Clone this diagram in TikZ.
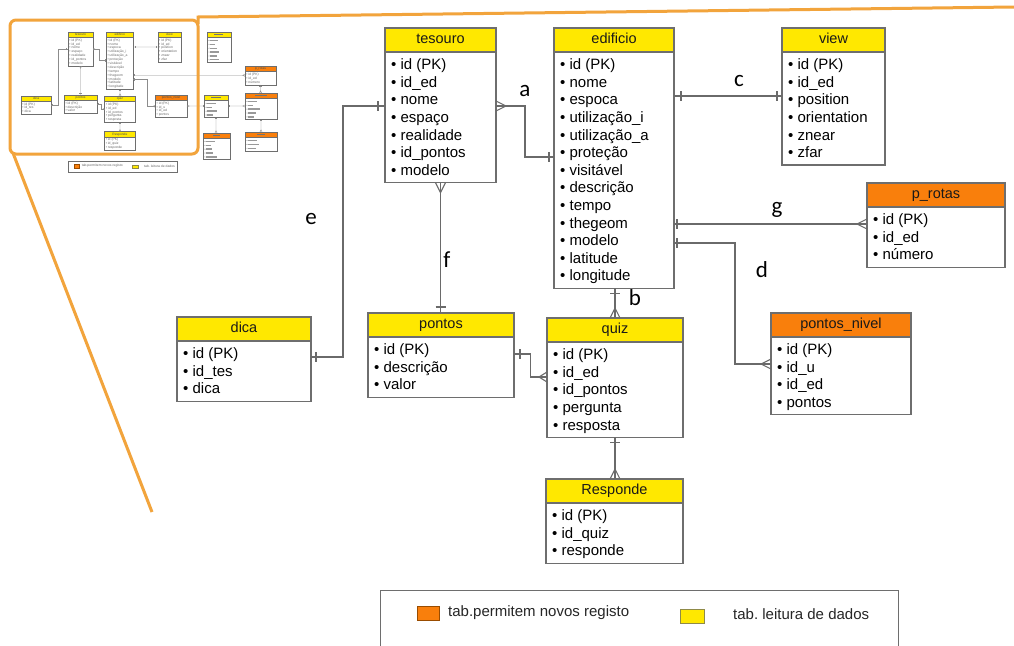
\documentclass[tikz,border=0pt]{standalone}
\usepackage{fontspec}
\setmainfont{Liberation Sans}
\newfontfamily\lblfamily{Carlito}
\usetikzlibrary{calc}

\definecolor{hdryellow}{HTML}{FFE800}
\definecolor{hdrorange}{HTML}{F97F0C}
\definecolor{tabline}{HTML}{6E6E6E}
\definecolor{linkgray}{HTML}{6A6A6A}
\definecolor{framecol}{HTML}{F2A43C}

\tikzset{
  tabhead/.style={draw=tabline, line width=1.1pt, inner sep=0pt, outer sep=0pt,
    minimum height=24, text height=10.5pt, text depth=3pt,
    font=\fontsize{14.5}{17}\selectfont, text=black!90},
  tabbody/.style={draw=tabline, fill=white, line width=1.1pt, inner sep=0pt, outer sep=0pt},
  tabrow/.style={inner sep=0pt, anchor=west, text height=10.5pt, text depth=3pt,
    font=\fontsize{15}{18}\selectfont, text=black},
  conn/.style={draw=linkgray, line width=1.1pt},
  lbl/.style={inner sep=0pt, anchor=base, font={\lblfamily\fontsize{23}{26}\selectfont}},
  legbox/.style={draw=tabline, line width=1pt, fill=white, inner sep=0pt, outer sep=0pt, anchor=north west},
  legswatch/.style={line width=.8pt, inner sep=0pt, outer sep=0pt, anchor=north west},
  legtext/.style={inner sep=0pt, anchor=west, text height=10.5pt, text depth=3pt,
    font=\fontsize{15}{18}\selectfont, text=black!85},
}

% entity table: name, left, top, width, header fill, title, attribute list
\newcommand\erdtable[7]{%
  \node[tabhead, fill=#5, minimum width=#4, anchor=north west] (#1) at (#2,#3) {#6};
  \foreach \erdrow [count=\erdk] in {#7} {\xdef\erdrows{\erdk}}
  \node[tabbody, minimum width=#4, minimum height={7.4+17.6*\erdrows}, anchor=north west]
    (#1-b) at (#2,{#3+24}) {};
  \foreach \erdrow [count=\erdk] in {#7}
    {\node[tabrow] (#1-r\erdk) at ({#2+6},{#3+20.4+17.6*\erdk}) {\textbullet\ \erdrow};}
}

% table whose entries are only hinted at by grey strokes
\newcommand\blurtable[7]{%
  \node[tabhead, fill=#5, minimum width=#4, anchor=north west] (#1) at (#2,#3) {};
  \fill[black!55] ({#2+#4/2-#6/2},{#3+9}) rectangle ++(#6,6);
  \foreach \erdlen [count=\erdk] in {#7} {\xdef\erdrows{\erdk}}
  \node[tabbody, minimum width=#4, minimum height={7.4+17.6*\erdrows}, anchor=north west]
    (#1-b) at (#2,{#3+24}) {};
  \foreach \erdlen [count=\erdk] in {#7} {
    \fill[black!70] ({#2+9},{#3+20.4+17.6*\erdk}) circle[radius=2];
    \fill[black!40] ({#2+15},{#3+17.4+17.6*\erdk}) rectangle ++(\erdlen,6);
  }
}

% relationship end marks
\newcommand\tickx[2]{\draw[conn] ($(#1)+(#2,-5)$) -- ($(#1)+(#2,5)$);}
\newcommand\ticky[2]{\draw[conn] ($(#1)+(-5,#2)$) -- ($(#1)+(5,#2)$);}
\newcommand\crowx[2]{\draw[conn] ($(#1)+(0,-5)$) -- ($(#1)+(#2,0)$) -- ($(#1)+(0,5)$);}
\newcommand\crowy[2]{\draw[conn] ($(#1)+(-5,0)$) -- ($(#1)+(0,#2)$) -- ($(#1)+(5,0)$);}

% the entity-relationship schema: node prefix, left edge of p_rotas
\newcommand\erdschema[2]{%
  \erdtable{#1tes}{385}{28}{111}{hdryellow}{tesouro}{id (PK),id\_ed,nome,espaço,realidade,id\_pontos,modelo}
  \erdtable{#1edi}{554}{28}{120}{hdryellow}{edificio}{id (PK),nome,espoca,utilização\_i,utilização\_a,proteção,visitável,descrição,tempo,thegeom,modelo,latitude,longitude}
  \erdtable{#1vie}{782}{28}{103}{hdryellow}{view}{id (PK),id\_ed,position,orientation,znear,zfar}
  \erdtable{#1pro}{#2}{183}{138}{hdrorange}{p\_rotas}{id (PK),id\_ed,número}
  \erdtable{#1dic}{177}{317}{134}{hdryellow}{dica}{id (PK),id\_tes,dica}
  \erdtable{#1pon}{368}{313}{146}{hdryellow}{pontos}{id (PK),descrição,valor}
  \erdtable{#1qui}{547}{318}{136}{hdryellow}{quiz}{id (PK),id\_ed,id\_pontos,pergunta,resposta}
  \erdtable{#1pni}{771}{313}{140}{hdrorange}{pontos\_nivel}{id (PK),id\_u,id\_ed,pontos}
  \erdtable{#1res}{546}{479}{137}{hdryellow}{Responde}{id (PK),id\_quiz,responde}
  % a: tesouro - edificio
  \coordinate (#1a1) at ($(#1tes-b.north east)+(0,54)$);
  \coordinate (#1a2) at ($(#1edi-b.north west)+(0,105)$);
  \draw[conn] (#1a1) -| ($(#1a1)!.5!(#1a2)$) |- (#1a2);
  \crowx{#1a1}{10}\tickx{#1a2}{-5}
  % e: tesouro - dica
  \coordinate (#1e1) at ($(#1tes-b.north west)+(0,54)$);
  \coordinate (#1e2) at ($(#1dic-b.north east)+(0,16)$);
  \draw[conn] (#1e1) -- ($(#1e1)+(-42,0)$) |- (#1e2);
  \tickx{#1e1}{-7}\tickx{#1e2}{5}
  % f: tesouro - pontos
  \coordinate (#1f1) at (#1tes-b.south);
  \coordinate (#1f2) at (#1f1 |- #1pon.north);
  \draw[conn] (#1f1) -- (#1f2);
  \crowy{#1f1}{10}\ticky{#1f2}{-6}
  % c: edificio - view
  \coordinate (#1c1) at ($(#1edi-b.north east)+(0,44)$);
  \coordinate (#1c2) at (#1c1 -| #1vie-b.west);
  \draw[conn] (#1c1) -- (#1c2);
  \tickx{#1c1}{7}\tickx{#1c2}{-5}
  % g: edificio - p_rotas
  \coordinate (#1g1) at ($(#1edi-b.north east)+(0,172)$);
  \coordinate (#1g2) at (#1g1 -| #1pro-b.west);
  \draw[conn] (#1g1) -- (#1g2);
  \tickx{#1g1}{3}\crowx{#1g2}{-10}
  % d: edificio - pontos_nivel
  \coordinate (#1d1) at ($(#1edi-b.north east)+(0,191)$);
  \coordinate (#1d2) at ($(#1pni-b.north west)+(0,27)$);
  \draw[conn] (#1d1) -| ($(#1d2)+(-36,0)$) -- (#1d2);
  \tickx{#1d1}{3}\crowx{#1d2}{-10}
  % b: edificio - quiz
  \coordinate (#1b1) at ($(#1edi-b.south west)+(61,0)$);
  \coordinate (#1b2) at (#1b1 |- #1qui.north);
  \draw[conn] (#1b1) -- (#1b2);
  \ticky{#1b1}{5}\crowy{#1b2}{-10}
  % pontos - quiz
  \coordinate (#1p1) at ($(#1pon-b.north east)+(0,17)$);
  \coordinate (#1p2) at ($(#1qui-b.north west)+(0,35)$);
  \draw[conn] (#1p1) -| ($(#1p1)!.5!(#1p2)$) |- (#1p2);
  \tickx{#1p1}{6}\crowx{#1p2}{-8}
  % quiz - Responde
  \coordinate (#1q1) at (#1qui-b.south);
  \coordinate (#1q2) at (#1q1 |- #1res.north);
  \draw[conn] (#1q1) -- (#1q2);
  \ticky{#1q1}{5}\crowy{#1q2}{-10}
}

\begin{document}
\begin{tikzpicture}[x=1pt, y=-1pt]
\path[use as bounding box] (0,0) rectangle (1014,645);
\clip (0,0) rectangle (1014,645);
\fill[white] (0,0) rectangle (1014,645);

% ---------- overview of the full schema (top left) ----------
\begin{scope}[shift={(-19,25.8)}, xscale=0.226, yscale=0.221, transform shape,
  tabhead/.append style={line width=.35pt, text=black!70},
  tabbody/.append style={line width=.35pt},
  tabrow/.append style={text=black!60},
  conn/.append style={line width=.35pt, draw=black!45},
  legbox/.append style={line width=.35pt}, legswatch/.append style={line width=.3pt},
  legtext/.append style={text=black!60}]
  \erdschema{t-}{1168}
  \blurtable{t-per}{1000}{28}{106}{hdryellow}{40}{35,22,30,40,30,36}
  \blurtable{t-uti}{987}{313}{106}{hdryellow}{46}{38,18,42,26}
  \blurtable{t-log}{982}{485}{120}{hdrorange}{30}{38,22,24,30,46}
  \blurtable{t-nav}{1168}{304}{142}{hdrorange}{50}{38,22,50,36,24}
  \blurtable{t-des}{1168}{481}{142}{hdrorange}{36}{38,48,34}
  \coordinate (t-x1) at ($(t-pni-b.north east)+(0,26)$);
  \coordinate (t-x2) at (t-x1 -| t-uti-b.west);
  \draw[conn] (t-x1) -- (t-x2);
  \crowx{t-x1}{10}\tickx{t-x2}{-5}
  \coordinate (t-y1) at (t-x1 -| t-uti-b.east);
  \coordinate (t-y2) at (t-y1 -| t-nav-b.west);
  \draw[conn] (t-y1) -- (t-y2);
  \tickx{t-y1}{5}\crowx{t-y2}{-10}
  \coordinate (t-z1) at (t-uti-b.south);
  \coordinate (t-z2) at (t-z1 |- t-log.north);
  \draw[conn] (t-z1) -- (t-z2);
  \ticky{t-z1}{5}\crowy{t-z2}{-10}
  \coordinate (t-w1) at (t-pro-b.south);
  \coordinate (t-w2) at (t-w1 |- t-nav.north);
  \draw[conn] (t-w1) -- (t-w2);
  \ticky{t-w1}{5}\crowy{t-w2}{-10}
  \coordinate (t-v1) at (t-nav-b.south);
  \coordinate (t-v2) at (t-v1 |- t-des.north);
  \draw[conn] (t-v1) -- (t-v2);
  \ticky{t-v1}{5}\crowy{t-v2}{-10}
  \node[legbox, minimum width=485, minimum height=52] (t-legend) at (385,612) {};
  \node[legswatch, fill=hdrorange, draw=orange!60!black, minimum width=24, minimum height=14] (t-legor) at (411,628) {};
  \node[legtext] (t-legortxt) at (446,635) {tab.permitem novos registo};
  \node[legswatch, fill=hdryellow, draw=yellow!50!black, minimum width=24, minimum height=14] (t-legye) at (670,630) {};
  \node[legtext] (t-legyetxt) at (722,637) {tab.\ leitura de dados};
\end{scope}

% zoom frame and the lines leading out of it
\draw[framecol, line width=3pt, rounded corners=6pt] (10,20) rectangle (198,154);
\draw[framecol, line width=3pt] (198,24) -- (198,17) -- (1014,7);
\draw[framecol, line width=3pt] (13,153) -- (152,512);

% ---------- enlarged schema ----------
\erdschema{}{867}

\node[lbl] (la) at (525,96) {a};
\node[lbl] (lb) at (635,305) {b};
\node[lbl] (lc) at (739,86) {c};
\node[lbl] (ld) at (762,277) {d};
\node[lbl] (le) at (311,224) {e};
\node[lbl] (lf) at (447,267) {f};
\node[lbl] (lg) at (777,213) {g};

% ---------- legend ----------
\node[legbox, minimum width=518, minimum height=80] (legend) at (380,590) {};
\node[legswatch, fill=hdrorange, draw=orange!60!black, minimum width=22, minimum height=14] (legor) at (417,606) {};
\node[legtext] (legortxt) at (448,613) {tab.permitem novos registo};
\node[legswatch, fill=hdryellow, draw=yellow!50!black, minimum width=24, minimum height=14] (legye) at (680,609) {};
\node[legtext] (legyetxt) at (733,616) {tab.\ leitura de dados};
\end{tikzpicture}
\end{document}
